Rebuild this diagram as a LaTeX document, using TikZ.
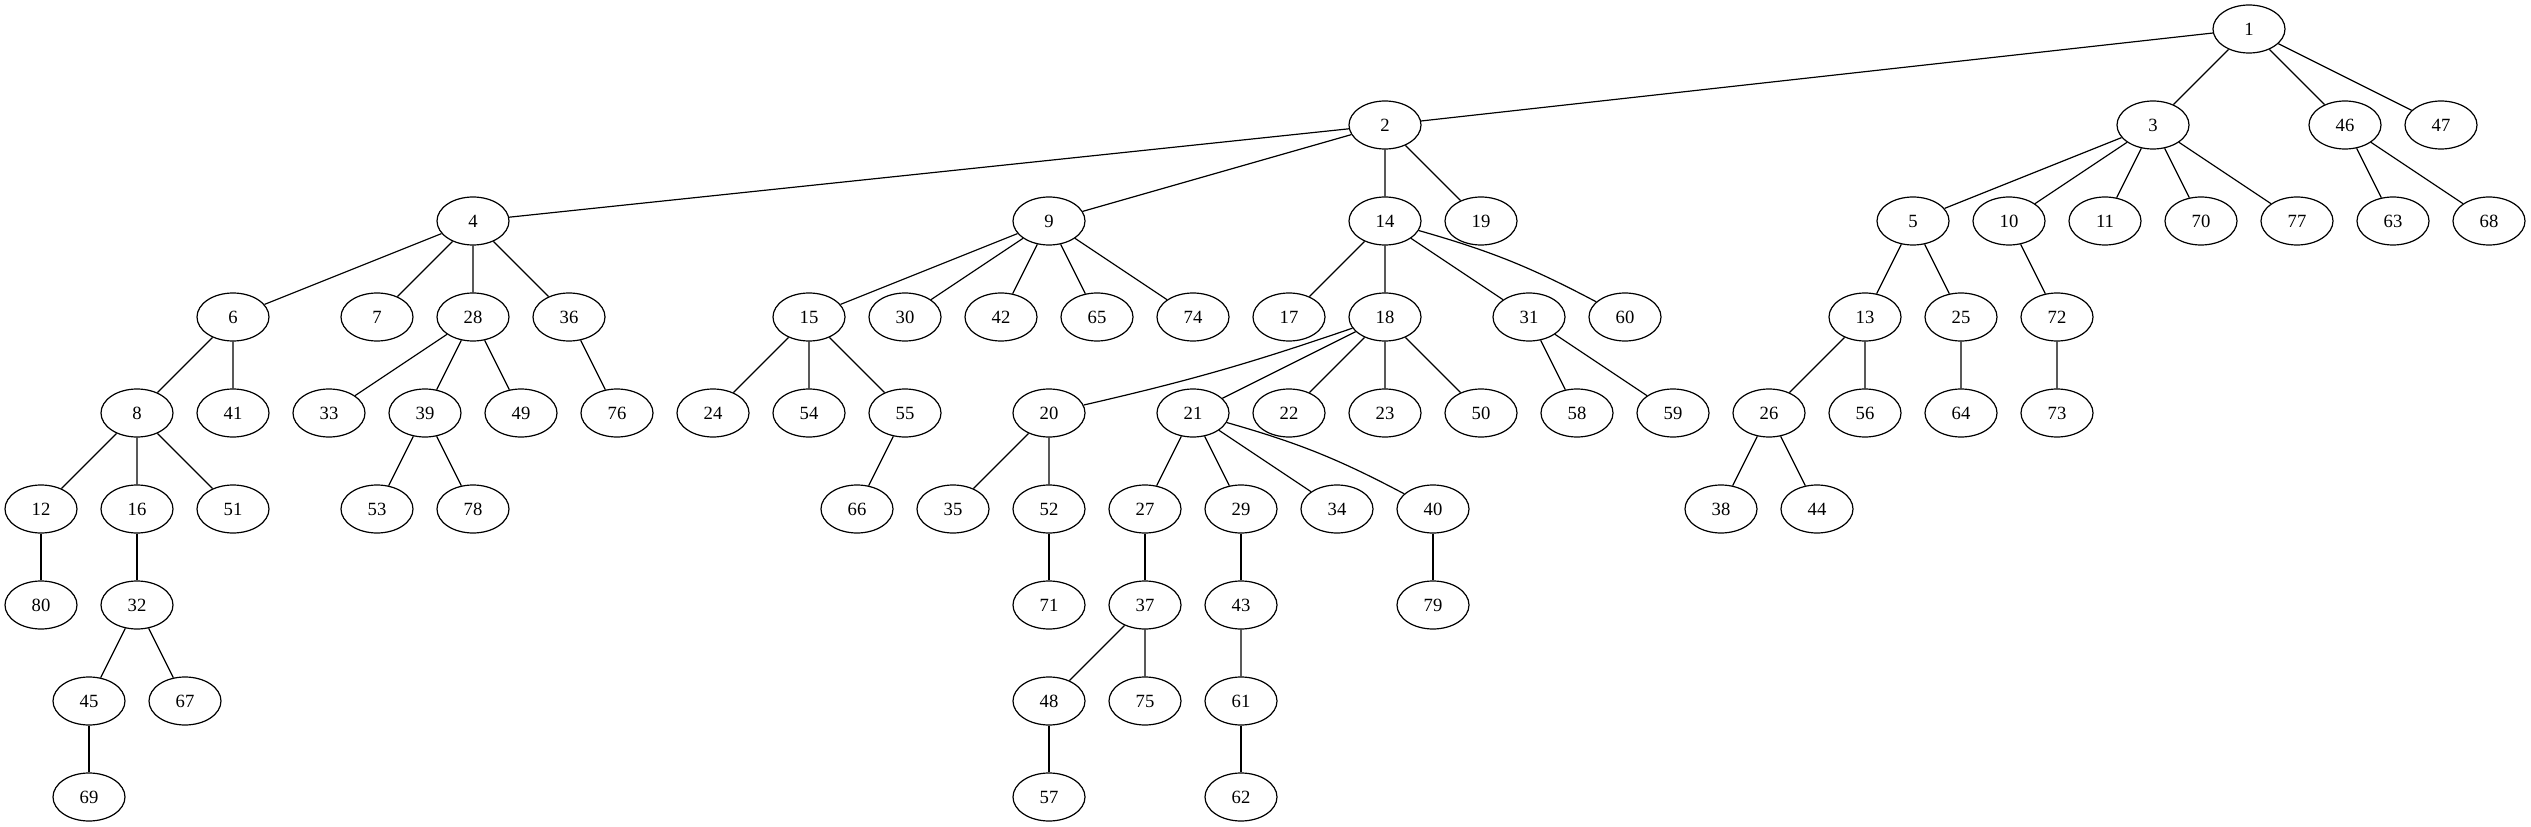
\documentclass[tikz,border=0pt]{standalone}
\usepackage{fontspec}
\setmainfont{Liberation Serif}
\usetikzlibrary{shapes.geometric}
\tikzset{vert/.style={draw, ellipse, line width=0.9pt, minimum width=54pt, minimum height=36pt, inner sep=0pt, font=\fontsize{14}{16}\selectfont}}
\begin{document}
\begin{tikzpicture}[x=0.75pt, y=-0.75pt, line width=0.9pt]
      \useasboundingbox (0,0) rectangle (2531,827);
      % Rank 0 and 1
      \node[vert] (n1) at (2249,29) {1};
      \node[vert] (n2) at (1385,125) {2};
      \node[vert] (n3) at (2153,125) {3};
      \node[vert] (n46) at (2345,125) {46};
      \node[vert] (n47) at (2441,125) {47};
      % Rank 2
      \node[vert] (n4) at (473,221) {4};
      \node[vert] (n9) at (1049,221) {9};
      \node[vert] (n14) at (1385,221) {14};
      \node[vert] (n19) at (1481,221) {19};
      \node[vert] (n5) at (1913,221) {5};
      \node[vert] (n10) at (2009,221) {10};
      \node[vert] (n11) at (2105,221) {11};
      \node[vert] (n70) at (2201,221) {70};
      \node[vert] (n77) at (2297,221) {77};
      \node[vert] (n63) at (2393,221) {63};
      \node[vert] (n68) at (2489,221) {68};
      % Rank 3
      \node[vert] (n6) at (233,317) {6};
      \node[vert] (n7) at (377,317) {7};
      \node[vert] (n28) at (473,317) {28};
      \node[vert] (n36) at (569,317) {36};
      \node[vert] (n15) at (809,317) {15};
      \node[vert] (n30) at (905,317) {30};
      \node[vert] (n42) at (1001,317) {42};
      \node[vert] (n65) at (1097,317) {65};
      \node[vert] (n74) at (1193,317) {74};
      \node[vert] (n17) at (1289,317) {17};
      \node[vert] (n18) at (1385,317) {18};
      \node[vert] (n31) at (1529,317) {31};
      \node[vert] (n60) at (1625,317) {60};
      \node[vert] (n13) at (1865,317) {13};
      \node[vert] (n25) at (1961,317) {25};
      \node[vert] (n72) at (2057,317) {72};
      % Rank 4
      \node[vert] (n8) at (137,413) {8};
      \node[vert] (n41) at (233,413) {41};
      \node[vert] (n33) at (329,413) {33};
      \node[vert] (n39) at (425,413) {39};
      \node[vert] (n49) at (521,413) {49};
      \node[vert] (n76) at (617,413) {76};
      \node[vert] (n24) at (713,413) {24};
      \node[vert] (n54) at (809,413) {54};
      \node[vert] (n55) at (905,413) {55};
      \node[vert] (n20) at (1049,413) {20};
      \node[vert] (n21) at (1193,413) {21};
      \node[vert] (n22) at (1289,413) {22};
      \node[vert] (n23) at (1385,413) {23};
      \node[vert] (n50) at (1481,413) {50};
      \node[vert] (n58) at (1577,413) {58};
      \node[vert] (n59) at (1673,413) {59};
      \node[vert] (n26) at (1769,413) {26};
      \node[vert] (n56) at (1865,413) {56};
      \node[vert] (n64) at (1961,413) {64};
      \node[vert] (n73) at (2057,413) {73};
      % Rank 5
      \node[vert] (n12) at (41,509) {12};
      \node[vert] (n16) at (137,509) {16};
      \node[vert] (n51) at (233,509) {51};
      \node[vert] (n53) at (377,509) {53};
      \node[vert] (n78) at (473,509) {78};
      \node[vert] (n66) at (857,509) {66};
      \node[vert] (n35) at (953,509) {35};
      \node[vert] (n52) at (1049,509) {52};
      \node[vert] (n27) at (1145,509) {27};
      \node[vert] (n29) at (1241,509) {29};
      \node[vert] (n34) at (1337,509) {34};
      \node[vert] (n40) at (1433,509) {40};
      \node[vert] (n38) at (1721,509) {38};
      \node[vert] (n44) at (1817,509) {44};
      % Rank 6
      \node[vert] (n80) at (41,605) {80};
      \node[vert] (n32) at (137,605) {32};
      \node[vert] (n71) at (1049,605) {71};
      \node[vert] (n37) at (1145,605) {37};
      \node[vert] (n43) at (1241,605) {43};
      \node[vert] (n79) at (1433,605) {79};
      % Rank 7 and 8
      \node[vert] (n45) at (89,701) {45};
      \node[vert] (n67) at (185,701) {67};
      \node[vert] (n48) at (1049,701) {48};
      \node[vert] (n75) at (1145,701) {75};
      \node[vert] (n61) at (1241,701) {61};
      \node[vert] (n69) at (89,797) {69};
      \node[vert] (n57) at (1049,797) {57};
      \node[vert] (n62) at (1241,797) {62};
      % Edges
      \draw (n1) -- (n2) (n1) -- (n3) (n1) -- (n46) (n1) -- (n47);
      \draw (n2) -- (n4) (n2) -- (n9) (n2) -- (n14) (n2) -- (n19);
      \draw (n3) -- (n5) (n3) -- (n10) (n3) -- (n11) (n3) -- (n70) (n3) -- (n77);
      \draw (n46) -- (n63) (n46) -- (n68);
      \draw (n4) -- (n6) (n4) -- (n7) (n4) -- (n28) (n4) -- (n36);
      \draw (n9) -- (n15) (n9) -- (n30) (n9) -- (n42) (n9) -- (n65) (n9) -- (n74);
      \draw (n14) -- (n17) (n14) -- (n18) (n14) -- (n31) (n14) to[bend left=6] (n60);
      \draw (n5) -- (n13) (n5) -- (n25) (n10) -- (n72);
      \draw (n6) -- (n8) (n6) -- (n41);
      \draw (n28) -- (n33) (n28) -- (n39) (n28) -- (n49) (n36) -- (n76);
      \draw (n15) -- (n24) (n15) -- (n54) (n15) -- (n55);
      \draw (n18) to[bend left=3] (n20) (n18) -- (n21) (n18) -- (n22) (n18) -- (n23) (n18) -- (n50);
      \draw (n31) -- (n58) (n31) -- (n59);
      \draw (n13) -- (n26) (n13) -- (n56) (n25) -- (n64) (n72) -- (n73);
      \draw (n8) -- (n12) (n8) -- (n16) (n8) -- (n51);
      \draw (n39) -- (n53) (n39) -- (n78) (n55) -- (n66);
      \draw (n20) -- (n35) (n20) -- (n52);
      \draw (n21) -- (n27) (n21) -- (n29) (n21) -- (n34) (n21) to[bend left=6] (n40);
      \draw (n26) -- (n38) (n26) -- (n44);
      \draw (n12) -- (n80) (n16) -- (n32) (n52) -- (n71);
      \draw (n27) -- (n37) (n29) -- (n43) (n40) -- (n79);
      \draw (n32) -- (n45) (n32) -- (n67);
      \draw (n37) -- (n48) (n37) -- (n75) (n43) -- (n61);
      \draw (n45) -- (n69) (n48) -- (n57) (n61) -- (n62);
\end{tikzpicture}
\end{document}
